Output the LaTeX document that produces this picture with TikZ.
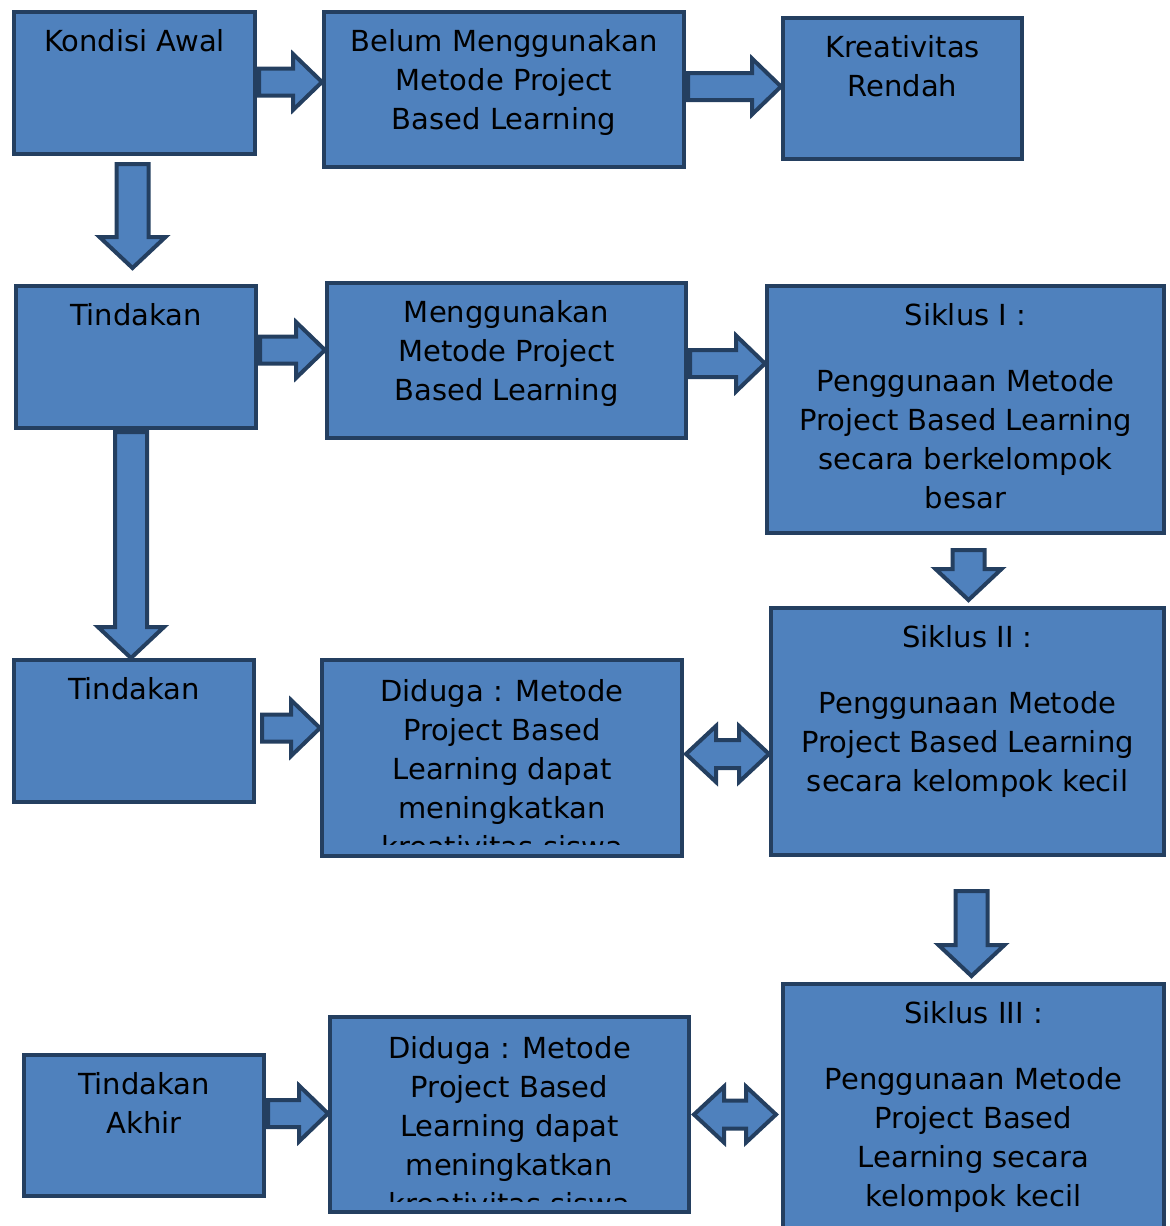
\documentclass[tikz,border=0pt]{standalone}
\usepackage{fontspec}
\setmainfont{DejaVu Sans}
\usetikzlibrary{calc}
\definecolor{boxfill}{RGB}{79,129,189}
\definecolor{boxline}{RGB}{36,63,96}
\newdimen\pxu \pxu=0.5pt
\newcommand{\boxtxt}[3]{\parbox[c][#2\pxu][t]{#1\pxu}{\centering\vspace*{8.5pt}#3\par}}
\tikzset{
  flowbox/.style={draw=boxline, fill=boxfill, line width=2pt, inner sep=0pt, anchor=north west, font=\fontsize{14.5}{19.5}\selectfont},
  flowtext/.style={draw=none, fill=none, inner sep=0pt, anchor=north, font=\fontsize{14.5}{19.5}\selectfont},
  blockarrow/.style={draw=boxline, fill=boxfill, line width=2pt, line join=miter},
}
% block arrows between boxes
\newcommand{\blockright}[2]{%
  \draw[blockarrow] let \p1=#1, \p2=#2 in
    (\x1,\y1+6.75pt) -- (\x2-14.5pt,\y1+6.75pt) -- (\x2-14.5pt,\y1+14pt) -- (\x2,\y1)
    -- (\x2-14.5pt,\y1-14pt) -- (\x2-14.5pt,\y1-6.75pt) -- (\x1,\y1-6.75pt) -- cycle;}
\newcommand{\blockdown}[2]{%
  \draw[blockarrow] let \p1=#1, \p2=#2 in
    (\x1-8pt,\y1) -- (\x1-8pt,\y2+15.5pt) -- (\x1-16.5pt,\y2+15.5pt) -- (\x1,\y2)
    -- (\x1+16.5pt,\y2+15.5pt) -- (\x1+8pt,\y2+15.5pt) -- (\x1+8pt,\y1) -- cycle;}
\newcommand{\blockboth}[2]{%
  \draw[blockarrow] let \p1=#1, \p2=#2 in
    (\x1,\y1) -- (\x1+15pt,\y1+14pt) -- (\x1+15pt,\y1+7pt) -- (\x2-15pt,\y1+7pt)
    -- (\x2-15pt,\y1+14pt) -- (\x2,\y1) -- (\x2-15pt,\y1-14pt) -- (\x2-15pt,\y1-7pt)
    -- (\x1+15pt,\y1-7pt) -- (\x1+15pt,\y1-14pt) -- cycle;}

\begin{document}
\begin{tikzpicture}[x=0.5pt, y=-0.5pt]
    \clip (0,0) rectangle (1170,1226);
    % row 1
    \node[flowbox] (kondisi) at (12,10) {\boxtxt{241}{142}{Kondisi Awal}};
    \node[flowbox] (belum) at (322,10) {\boxtxt{360}{155}{Belum Menggunakan\\ Metode Project\\ Based Learning}};
    \node[flowbox] (kreatif) at (781,16) {\boxtxt{239}{141}{Kreativitas\\ Rendah}};
    % row 2
    \node[flowbox] (tindakan) at (14,284) {\boxtxt{240}{142}{Tindakan}};
    \node[flowbox] (mengg) at (325,281) {\boxtxt{359}{155}{Menggunakan\\ Metode Project\\ Based Learning}};
    \node[flowbox] (siklus1) at (765,284) {\boxtxt{397}{247}{Siklus I :\\[13.5pt] Penggunaan Metode\\ Project Based Learning\\ secara berkelompok\\ besar}};
    % row 3
    \node[flowbox] (tindakan2) at (12,658) {\boxtxt{240}{142}{Tindakan}};
    \node[flowbox, minimum width=180pt, minimum height=98pt, path picture={
        \clip (path picture bounding box.north west) rectangle ($(path picture bounding box.south east)+(0,-12)$);
        \node[flowtext] (diduga text) at (path picture bounding box.north) {\boxtxt{360}{196}{Diduga : Metode\\ Project Based\\ Learning dapat\\ meningkatkan\\ kreativitas siswa}};
      }] (diduga) at (320,658) {};
    \node[flowbox] (siklus2) at (769,606) {\boxtxt{393}{247}{Siklus II :\\[13.5pt] Penggunaan Metode\\ Project Based Learning\\ secara kelompok kecil}};
    % row 4
    \node[flowbox] (akhir) at (22,1053) {\boxtxt{240}{141}{Tindakan\\ Akhir}};
    \node[flowbox, minimum width=179.5pt, minimum height=97.5pt, path picture={
        \clip (path picture bounding box.north west) rectangle ($(path picture bounding box.south east)+(0,-11)$);
        \node[flowtext] (diduga2 text) at (path picture bounding box.north) {\boxtxt{359}{195}{Diduga : Metode\\ Project Based\\ Learning dapat\\ meningkatkan\\ kreativitas siswa}};
      }] (diduga2) at (328,1015) {};
    \node[flowbox] (siklus3) at (781,982) {\boxtxt{381}{260}{Siklus III :\\[13.5pt] Penggunaan Metode\\ Project Based\\ Learning secara\\ kelompok kecil}};
    % arrows
    \blockright{($(kondisi.east)+(2,-1)$)}{(belum.west)}
    \blockright{($(belum.east)+(2,-3)$)}{(kreatif.west)}
    \blockdown{($(kondisi.south)+(-2,8)$)}{($(tindakan.north)+(0,-16)$)}
    \blockright{($(tindakan.east)+(2,-7)$)}{(mengg.west)}
    \blockright{($(mengg.east)+(2,3)$)}{(siklus1.west)}
    \blockdown{($(tindakan.south)+(-5,2)$)}{(tindakan2.north)}
    \blockdown{($(siklus1.south)+(3,15)$)}{($(siklus2.north)+(0,-6)$)}
    \blockright{($(tindakan2.east)+(6,-3)$)}{(diduga.west)}
    \blockboth{($(diduga.east)+(2,-4)$)}{(siklus2.west)}
    \blockdown{($(siklus2.south)+(4,34)$)}{($(siklus3.north)+(0,-6)$)}
    \blockright{($(akhir.east)+(2,-12)$)}{(diduga2.west)}
    \blockboth{($(diduga2.east)+(3,0)$)}{($(siklus3.west)+(-5,0)$)}
\end{tikzpicture}
\end{document}
